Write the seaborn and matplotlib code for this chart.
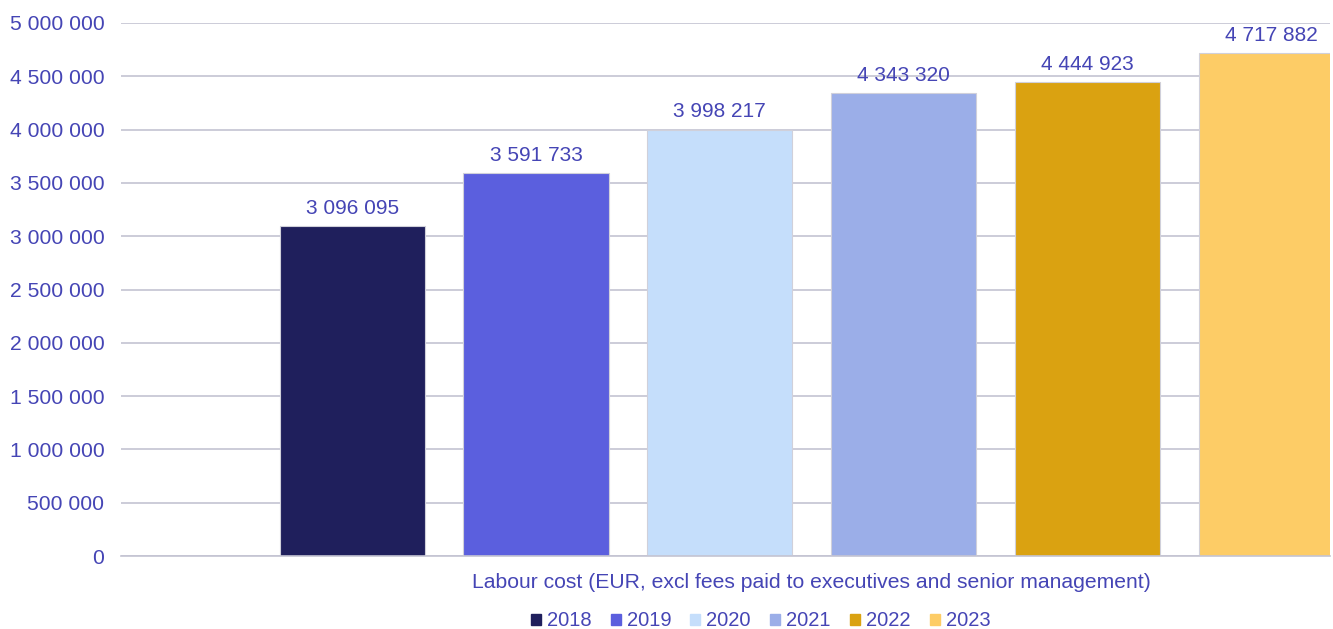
import matplotlib
matplotlib.use("Agg")
import matplotlib.pyplot as plt
import seaborn as sns
import pandas as pd
from matplotlib.ticker import FuncFormatter

category = ["Labour cost (EUR, excl fees paid to executives and senior management)"]
years = ["2018", "2019", "2020", "2021", "2022", "2023"]
values = [3096095, 3591733, 3998217, 4343320, 4444923, 4717882]
colors = ["#1F1F5C", "#5B5FDE", "#C5DEFB", "#9BAEE8", "#DAA211", "#FDCC66"]

df = pd.DataFrame({"category": category * len(years), "year": years, "value": values})

sns.set_theme(style="white")
plt.rcParams["font.family"] = ["Liberation Sans", "DejaVu Sans"]
txt = "#4545B5"

fig = plt.figure(figsize=(13.33, 6.29), dpi=100)
ax = fig.add_axes([121/1333, 1-556/629, (1330-121)/1333, (556-23)/629])

sns.barplot(data=df, x="category", y="value", hue="year", palette=colors,
            saturation=1, width=0.8, gap=0.21, ax=ax, edgecolor="#D0D0DA",
            linewidth=0.8, legend=True)

for c in ax.containers:
    ax.bar_label(c, labels=[f"{int(v):,}".replace(",", " ") for v in c.datavalues],
                 padding=6, color=txt, fontsize=15)

ax.set_ylim(0, 5000000)
ax.set_xlim(-0.501, 0.376)
ax.set_yticks(range(0, 5000001, 500000))
ax.yaxis.set_major_formatter(FuncFormatter(lambda v, p: f"{int(v):,}".replace(",", " ")))
ax.yaxis.grid(True, color="#C4C4D2", linewidth=1.2)
ax.set_axisbelow(True)
for s in ["top", "right", "left"]:
    ax.spines[s].set_visible(False)
ax.spines["bottom"].set_color("#C4C4D2")
ax.spines["bottom"].set_linewidth(1.2)
ax.tick_params(axis="y", colors=txt, labelsize=15.2, length=0, pad=12)
ax.tick_params(axis="x", colors=txt, labelsize=15.2, length=0, pad=12)
ax.set_xlabel("")
ax.set_ylabel("")

ax.get_legend().remove()
handles = [plt.Rectangle((0, 0), 1, 1, color=c) for c in colors]
fig.legend(handles, years, loc="center", bbox_to_anchor=(760.5/1333, 1-621/629),
           ncol=6, frameon=False, fontsize=14.5, labelcolor=txt,
           handlelength=0.5, handleheight=0.5, handletextpad=0.3, columnspacing=0.95)

fig.savefig("out.png", dpi=100)
